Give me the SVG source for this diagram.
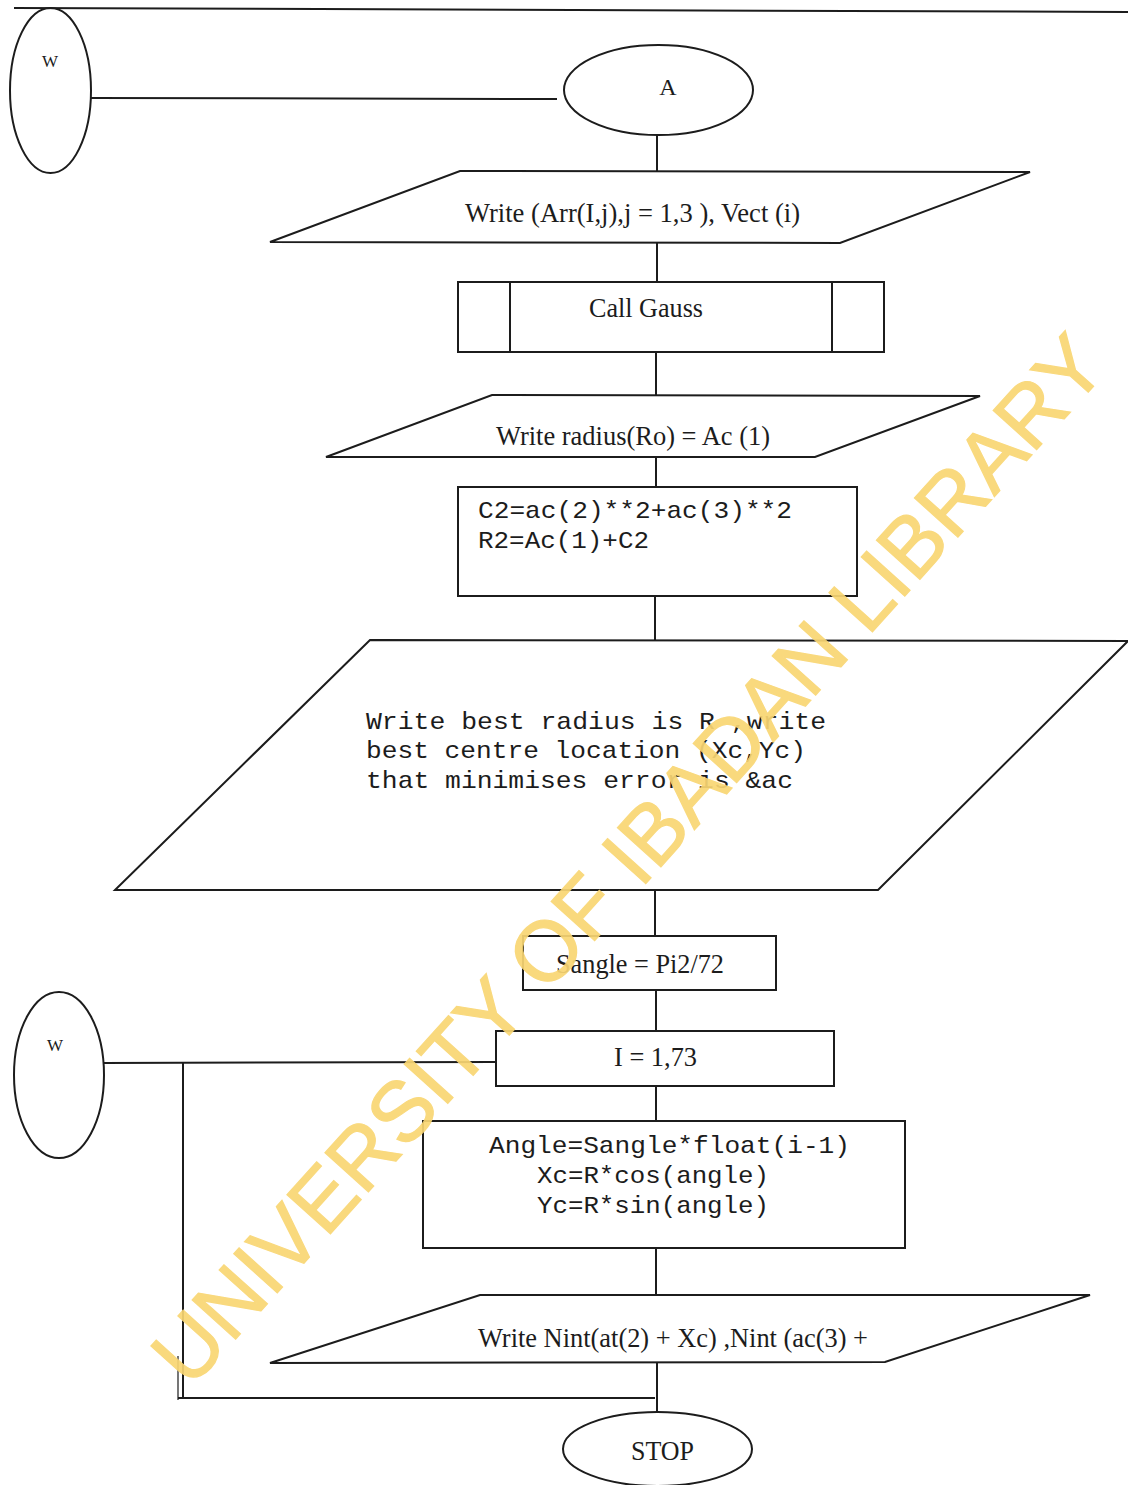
<svg xmlns="http://www.w3.org/2000/svg" width="1128" height="1485" viewBox="0 0 1128 1485">
<style>
.ln{stroke:#1c1c1c;stroke-width:2;fill:none}
.sh{stroke:#1c1c1c;stroke-width:2;fill:none}
.tm{font-family:"Liberation Serif","Times New Roman",serif;font-size:27px;fill:#1c1c1c}
.mo{font-family:"Liberation Mono","Courier New",monospace;font-size:24px;fill:#1c1c1c}
.sm{font-family:"Liberation Serif","Times New Roman",serif;font-size:17px;fill:#1c1c1c}
.wm{font-family:"Liberation Sans",Arial,sans-serif;font-size:85px;fill:#F9D673;stroke:#F9D673;stroke-width:1.2;opacity:0.92}
</style>
<rect width="1128" height="1485" fill="#ffffff"/>
<g id="connectors">
<line class="ln" x1="14" y1="8" x2="1128" y2="12"/>
<line class="ln" x1="91" y1="98" x2="557" y2="99"/>
<line class="ln" x1="657" y1="135" x2="657" y2="172"/>
<line class="ln" x1="657" y1="243" x2="657" y2="282"/>
<line class="ln" x1="656" y1="352" x2="656" y2="395"/>
<line class="ln" x1="656" y1="457" x2="656" y2="487"/>
<line class="ln" x1="655" y1="596" x2="655" y2="640"/>
<line class="ln" x1="655" y1="890" x2="655" y2="936"/>
<line class="ln" x1="656" y1="990" x2="656" y2="1031"/>
<line class="ln" x1="656" y1="1086" x2="656" y2="1121"/>
<line class="ln" x1="656" y1="1248" x2="656" y2="1296"/>
<line class="ln" x1="657" y1="1363" x2="657" y2="1412"/>
<line class="ln" x1="104" y1="1063" x2="496" y2="1062"/>
<line class="ln" x1="183" y1="1063" x2="183" y2="1398"/>
<line class="ln" x1="178" y1="1356" x2="178" y2="1400" style="stroke-width:1.2"/>
<line class="ln" x1="178" y1="1398" x2="655" y2="1398"/>
</g>
<g id="node-w-top">
<ellipse class="sh" cx="50.5" cy="90.5" rx="40.5" ry="82.5"/>
<text class="sm" x="50" y="67" text-anchor="middle">W</text>
</g>
<g id="node-a">
<ellipse class="sh" cx="658.5" cy="90" rx="94.5" ry="45"/>
<text class="tm" x="668" y="95" text-anchor="middle" style="font-size:24px">A</text>
</g>
<g id="node-write-arr">
<polygon class="sh" points="460,171 1030,172 840,243 270,242"/>
<text class="tm" x="465" y="222" textLength="335" lengthAdjust="spacingAndGlyphs">Write (Arr(I,j),j = 1,3 ), Vect (i)</text>
</g>
<g id="node-call-gauss">
<rect class="sh" x="458" y="282" width="426" height="70"/>
<line class="sh" x1="510" y1="282" x2="510" y2="352"/>
<line class="sh" x1="832" y1="282" x2="832" y2="352"/>
<text class="tm" x="589" y="317" textLength="114" lengthAdjust="spacingAndGlyphs">Call Gauss</text>
</g>
<g id="node-write-radius">
<polygon class="sh" points="492,395 980,396 815,457 326,457"/>
<text class="tm" x="496" y="445" textLength="274" lengthAdjust="spacingAndGlyphs">Write radius(Ro) = Ac (1)</text>
</g>
<g id="node-c2">
<rect class="sh" x="458" y="487" width="399" height="109"/>
<text class="mo" x="478" y="518" textLength="314" lengthAdjust="spacingAndGlyphs">C2=ac(2)**2+ac(3)**2</text>
<text class="mo" x="478" y="548" textLength="171" lengthAdjust="spacingAndGlyphs">R2=Ac(1)+C2</text>
</g>
<g id="node-write-best">
<polygon class="sh" points="370,640 1128,641 878,890 115,890"/>
<text class="mo" x="366" y="729" textLength="460" lengthAdjust="spacingAndGlyphs">Write best radius is R ,write</text>
<text class="mo" x="366" y="758" textLength="440" lengthAdjust="spacingAndGlyphs">best centre location (Xc,Yc)</text>
<text class="mo" x="366" y="788" textLength="427" lengthAdjust="spacingAndGlyphs">that minimises error is &amp;ac</text>
</g>
<g id="node-sangle">
<rect class="sh" x="523" y="936" width="253" height="54"/>
<text class="tm" x="556" y="973" textLength="168" lengthAdjust="spacingAndGlyphs">Sangle = Pi2/72</text>
</g>
<g id="node-loop">
<rect class="sh" x="496" y="1031" width="338" height="55"/>
<text class="tm" x="614" y="1066" textLength="83" lengthAdjust="spacingAndGlyphs">I = 1,73</text>
</g>
<g id="node-angle">
<rect class="sh" x="423" y="1121" width="482" height="127"/>
<text class="mo" x="489" y="1153" textLength="361" lengthAdjust="spacingAndGlyphs">Angle=Sangle*float(i-1)</text>
<text class="mo" x="537" y="1183" textLength="232" lengthAdjust="spacingAndGlyphs">Xc=R*cos(angle)</text>
<text class="mo" x="537" y="1213" textLength="232" lengthAdjust="spacingAndGlyphs">Yc=R*sin(angle)</text>
</g>
<g id="node-write-nint">
<polygon class="sh" points="480,1295 1090,1295 885,1362 270,1363"/>
<text class="tm" x="478" y="1347" textLength="390" lengthAdjust="spacingAndGlyphs">Write Nint(at(2) + Xc) ,Nint (ac(3) +</text>
</g>
<g id="node-w-bottom">
<ellipse class="sh" cx="59" cy="1075" rx="45" ry="83"/>
<text class="sm" x="55" y="1051" text-anchor="middle">W</text>
</g>
<g id="node-stop">
<ellipse class="sh" cx="657.5" cy="1449" rx="94.5" ry="37"/>
<text class="tm" x="631" y="1460" textLength="63" lengthAdjust="spacingAndGlyphs">STOP</text>
</g>
<g id="watermark">
<text class="wm" x="650" y="879" text-anchor="middle" textLength="1375" lengthAdjust="spacingAndGlyphs" transform="rotate(-48 650 879)">UNIVERSITY OF IBADAN LIBRARY</text>
</g>
</svg>
